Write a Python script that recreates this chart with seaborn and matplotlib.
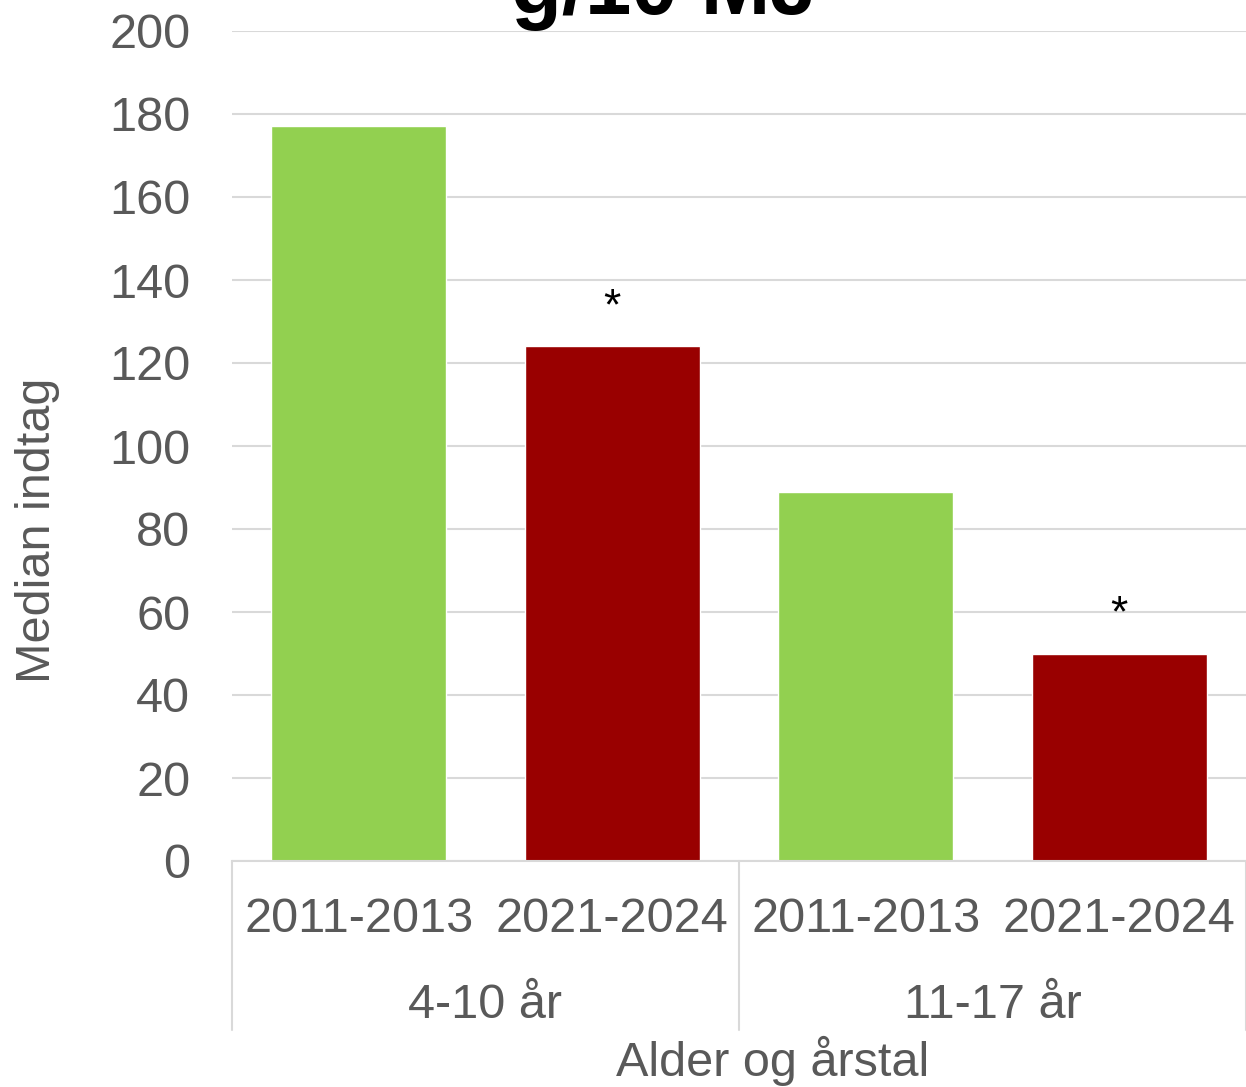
import numpy as np
import pandas as pd
import matplotlib
matplotlib.use("Agg")
import matplotlib.pyplot as plt
import seaborn as sns

# data
age_groups = ["4-10 år", "11-17 år"]
periods = ["2011-2013", "2021-2024"]
bar_group = ["4-10 år", "4-10 år", "11-17 år", "11-17 år"]
bar_period = ["2011-2013", "2021-2024", "2011-2013", "2021-2024"]
median_values = [177, 124, 89, 50]
significant = [False, True, False, True]

period_colors = {"2011-2013": "#92D050", "2021-2024": "#990000"}
grey = "#595959"

df = pd.DataFrame({
    "pos": [f"{g} {p}" for g, p in zip(bar_group, bar_period)],
    "period": bar_period,
    "value": median_values,
})

sns.set_theme(style="white")
plt.rcParams["font.family"] = ["Liberation Sans", "DejaVu Sans"]

W, H = 1246, 1087
fig = plt.figure(figsize=(W / 100, H / 100), dpi=100)
ax = fig.add_axes([232 / W, (H - 861) / H, 1014 / W, 830 / H])

sns.barplot(data=df, x="pos", y="value", hue="period", palette=period_colors,
            dodge=False, width=0.69, saturation=1, legend=False, ax=ax)

ax.set_ylim(0, 200)
ax.set_xlim(-0.5, 3.5)
ax.set_yticks(np.arange(0, 201, 20))
ax.yaxis.grid(True, color="#D9D9D9", linewidth=1.5)
ax.set_axisbelow(True)
for s in ["top", "right", "left"]:
    ax.spines[s].set_visible(False)
ax.spines["bottom"].set_color("#D9D9D9")
ax.spines["bottom"].set_linewidth(1.5)
ax.tick_params(axis="both", length=0, labelsize=35, labelcolor=grey)
ax.tick_params(axis="y", pad=30)
ax.set_xticks([])
ax.set_xlabel("")
ax.set_ylabel("")

# category labels (period + age group)
xt = ax.get_xaxis_transform()
for i, p in enumerate(bar_period):
    ax.text(i, -0.0705, p, transform=xt, ha="center", va="center",
            fontsize=35, color=grey)
for j, g in enumerate(age_groups):
    ax.text(j * 2 + 0.5, -0.1735, g, transform=xt, ha="center", va="center",
            fontsize=35, color=grey)
for xv in [-0.5, 1.5, 3.5]:
    ax.plot([xv, xv], [0, -0.2036], transform=xt, color="#D9D9D9",
            linewidth=1.5, clip_on=False)

# significance markers
for i, (v, sig) in enumerate(zip(median_values, significant)):
    if sig:
        ax.text(i, v + 6.5, "*", ha="center", va="baseline",
                fontsize=32, color="black")

fig.text(38 / W, 1 - 530 / H, "Median indtag", rotation=90, ha="center",
         va="center", fontsize=35, color=grey)
fig.text(773 / W, 1 - 1061 / H, "Alder og årstal", ha="center", va="center",
         fontsize=35, color=grey)
fig.text(664 / W, 1 - 14 / H, "g/10 MJ", ha="center", va="baseline",
         fontsize=60, fontweight="bold", color="black")

fig.savefig("out.png", dpi=100)
